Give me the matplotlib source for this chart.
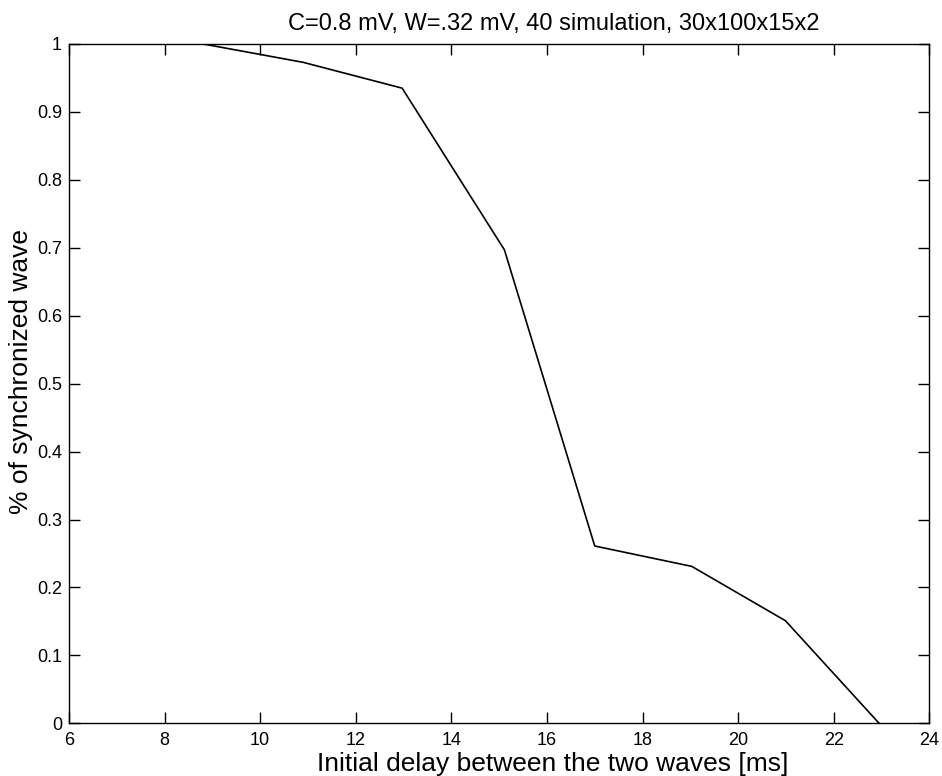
import matplotlib
matplotlib.use("Agg")
import matplotlib.pyplot as plt

delay_ms = [8.81, 10.90, 12.97, 15.11, 17.00, 19.03, 20.99, 22.95]
sync_frac = [1.0, 0.973, 0.935, 0.697, 0.261, 0.231, 0.151, 0.0]
xticks = [6, 8, 10, 12, 14, 16, 18, 20, 22, 24]
yticks = [0, 0.1, 0.2, 0.3, 0.4, 0.5, 0.6, 0.7, 0.8, 0.9, 1]
ytick_labels = ["0", "0.1", "0.2", "0.3", "0.4", "0.5", "0.6", "0.7", "0.8", "0.9", "1"]

plt.rcParams['font.family'] = ['Liberation Sans', 'DejaVu Sans']

fig = plt.figure(figsize=(9.42, 7.76), dpi=100)
ax = fig.add_axes([69/942, (776-723.3)/776, (929.3-69)/942, (723.3-44)/776])
ax.plot(delay_ms, sync_frac, color='black', linewidth=1.2, clip_on=True)
ax.set_xlim(6, 24)
ax.set_ylim(0, 1)
ax.set_xticks(xticks)
ax.set_xticklabels([str(t) for t in xticks])
ax.set_yticks(yticks)
ax.set_yticklabels(ytick_labels)
ax.tick_params(direction='in', length=8, width=1, top=True, right=True,
               labelsize=13, pad=5, colors='black')
ax.tick_params(axis='x', pad=6)
for s in ax.spines.values():
    s.set_linewidth(1)
fig.text(288/942, 1 - 30/776, "C=0.8 mV, W=.32 mV, 40 simulation, 30x100x15x2",
         ha='left', va='baseline', fontsize=17)
fig.text(317/942, 1 - 771/776, "Initial delay between the two waves [ms]",
         ha='left', va='baseline', fontsize=19)
fig.text(21/942, 1 - 372/776, "% of synchronized wave",
         ha='center', va='center', fontsize=19, rotation=90)
fig.savefig("out.png", dpi=100)
